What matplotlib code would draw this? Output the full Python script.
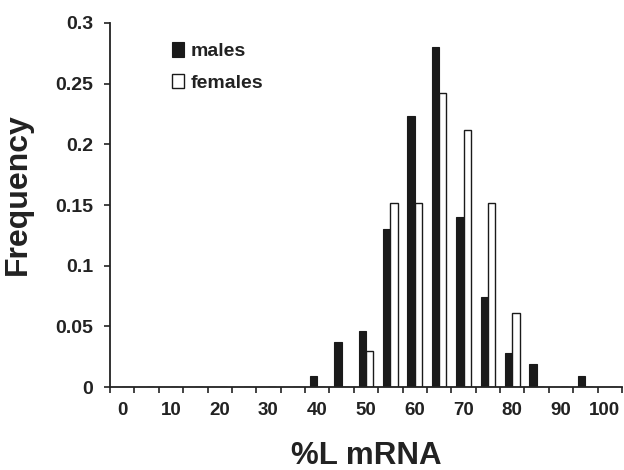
import matplotlib
matplotlib.use("Agg")
import matplotlib.pyplot as plt
import matplotlib.transforms as mtransforms
import numpy as np

plt.rcParams['font.family'] = ['Liberation Sans', 'DejaVu Sans']

bins = list(range(0, 105, 5))
males = [0, 0, 0, 0, 0, 0, 0, 0, 0.009, 0.037, 0.046, 0.130, 0.223, 0.280,
         0.140, 0.074, 0.028, 0.019, 0, 0.009, 0]
females = [0, 0, 0, 0, 0, 0, 0, 0, 0, 0, 0.030, 0.152, 0.152, 0.242,
           0.212, 0.152, 0.061, 0, 0, 0, 0]
xticklabels = [str(b) if b % 10 == 0 else '' for b in bins]

fig = plt.figure(figsize=(6.24, 4.70), dpi=100)
ax = fig.add_axes([110/624, 1-387/470, 512/624, 364/470])

x = np.arange(len(bins))
w = 0.3
ax.bar(x - w/2, males, width=w, color='#1a1a1a', edgecolor='#1a1a1a', linewidth=0.8, label='males')
ax.bar(x + w/2, females, width=w, color='white', edgecolor='#1a1a1a', linewidth=1.0, label='females')

ax.set_xlim(-0.5, 20.5)
ax.set_ylim(0, 0.3)
ax.set_yticks([0, 0.05, 0.1, 0.15, 0.2, 0.25, 0.3])
ax.set_yticklabels(['0', '0.05', '0.1', '0.15', '0.2', '0.25', '0.3'])
ax.set_xticks(x)
ax.set_xticklabels(xticklabels)
ax.set_xticks(np.arange(-0.5, 21, 1), minor=True)
ax.tick_params(axis='x', which='major', length=0, pad=11, labelsize=13.5)
ax.tick_params(axis='x', which='minor', length=4, width=1.2, color='#222222')
ax.tick_params(axis='y', length=4, width=1.2, color='#222222', pad=8, labelsize=14)
for lab in ax.get_xticklabels() + ax.get_yticklabels():
    lab.set_fontweight('bold')
    lab.set_color('#222222')
# keep the last label inside the figure
last = ax.get_xticklabels()[-1]
last.set_transform(last.get_transform() + mtransforms.ScaledTranslation(-5/100, 0, fig.dpi_scale_trans))

for s in ['top', 'right']:
    ax.spines[s].set_visible(False)
for s in ['left', 'bottom']:
    ax.spines[s].set_linewidth(1.3)
    ax.spines[s].set_color('#222222')

ax.set_ylabel('Frequency', fontsize=23, fontweight='bold', color='#222222')
ax.yaxis.set_label_coords(-0.150, 0.53)
ax.set_xlabel('%L mRNA', fontsize=22.5, fontweight='bold', color='#222222', labelpad=16)

leg = ax.legend(loc='upper left', bbox_to_anchor=(0.105, 0.97), frameon=False,
                prop={'weight': 'bold', 'size': 14}, handlelength=0.65, handleheight=0.8,
                handletextpad=0.35, labelspacing=0.7, borderaxespad=0)
for t in leg.get_texts():
    t.set_color('#222222')

fig.savefig('out.png', dpi=100)
